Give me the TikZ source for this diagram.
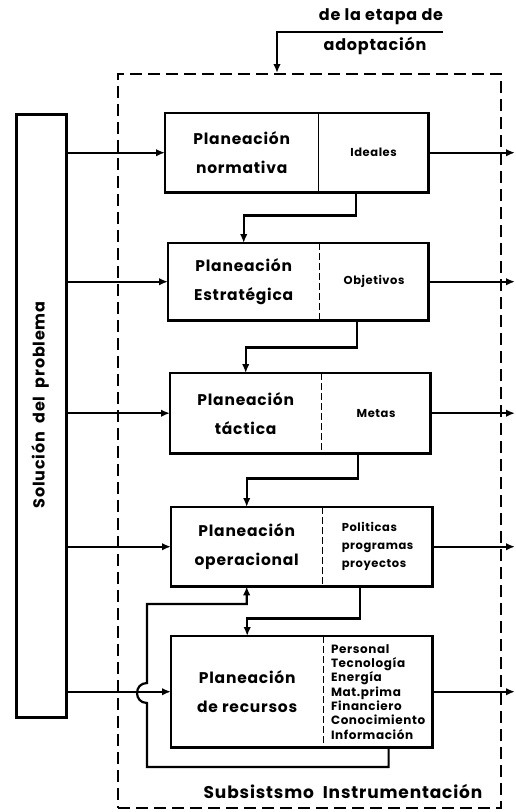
\documentclass[tikz,border=0pt]{standalone}
\usepackage{fontspec}
\setmainfont{Poppins}[LetterSpace=5]
\usetikzlibrary{arrows.meta}

\begin{document}
\begin{tikzpicture}[x=1pt,y=-1pt,
  wire/.style={line width=2.2pt},
  arr/.style={line width=2.2pt, -{Latex[length=9pt,width=7.5pt]}},
  part/.style={inner sep=0pt, anchor=north west, align=center},
  frame/.style={line width=2.8pt},
  divide/.style={line width=1pt, dash pattern=on 7pt off 3pt},
  big/.style={font=\fontsize{15.5}{29}\selectfont\bfseries},
  small/.style={font=\fontsize{11.5}{18}\selectfont\bfseries},
  list/.style={font=\fontsize{12}{14.3}\selectfont\bfseries, align=left},
]
\useasboundingbox (0,0) rectangle (516,812);

% instrumentation subsystem boundary
\node[draw, dash pattern=on 12pt off 6pt, line width=2.3pt, minimum width=383,
      minimum height=734, anchor=north west, inner sep=0pt] (sub) at (117,73) {};
\node[font=\fontsize{17}{19}\selectfont\bfseries] (subl) at (343,791) {Subsistsmo\ \ Instrumentación};

% incoming signal from the adaptation stage
\node[font=\fontsize{16}{18}\selectfont\bfseries] (etapa) at (381,17) {de la etapa de};
\node[font=\fontsize{16}{18}\selectfont\bfseries] (adapt) at (375,46) {adoptación};
\coordinate (ul) at (443,32);
\coordinate (drop) at (277,32);
\draw[arr] (ul) -- (drop) -- (drop |- sub.north);

% problem solution column
\node[draw, frame, minimum width=50, minimum height=603, anchor=north west, inner sep=0pt] (sol) at (15,113) {};
\node[rotate=90, font=\fontsize{16}{18}\selectfont\bfseries] (soltext) at (40,405) {Solución\ \ del\ \ problema};

% planning levels
\node[part, big, minimum width=153, minimum height=79] (n1) at (165,113) {Planeación\\normativa};
\node[part, small, minimum width=110, minimum height=79] (r1) at (n1.north east) {Ideales};
\draw[frame] (n1.north west) rectangle (r1.south east);
\draw[line width=1pt] (n1.north east) -- (n1.south east);

\node[part, big, minimum width=151, minimum height=77] (n2) at (168,243) {Planeación\\Estratégica};
\node[part, small, minimum width=109, minimum height=77] (r2) at (n2.north east) {Objetivos};
\draw[frame] (n2.north west) rectangle (r2.south east);
\draw[divide] (n2.north east) -- (n2.south east);

\node[part, big, minimum width=151, minimum height=80] (n3) at (170,373) {Planeación\\táctica};
\node[part, small, minimum width=109, minimum height=80] (r3) at (n3.north east) {Metas};
\draw[frame] (n3.north west) rectangle (r3.south east);
\draw[divide] (n3.north east) -- (n3.south east);

\node[part, big, minimum width=151, minimum height=79] (n4) at (171,507) {Planeación\\operacional};
\node[part, small, minimum width=110, minimum height=79, align=left] (r4) at (n4.north east) {Politicas\\programas\\proyectos};
\draw[frame] (n4.north west) rectangle (r4.south east);
\draw[divide] (n4.north east) -- (n4.south east);

\node[part, big, minimum width=152, minimum height=111] (n5) at (171,636) {Planeación\\de recursos};
\node[part, list, minimum width=109, minimum height=111] (r5) at (n5.north east)
  {Personal\\Tecnología\\Energía\\Mat.prima\\Financiero\\Conocimiento\\Información};
\draw[frame] (n5.north west) rectangle (r5.south east);
\draw[divide] (n5.north east) -- (n5.south east);

% inputs from the solution column
\foreach \n in {n1,n2,n3,n4,n5}
  \draw[arr] (sol.east |- \n.west) -- (\n.west);

% outputs leaving the subsystem
\coordinate (rim) at (515,0);
\foreach \r in {r1,r2,r3,r4,r5}
  \draw[arr] (\r.east) -- (\r.east -| rim);

% cascade between levels
\draw[arr] ([xshift=-18pt]r1.south) -- ++(0,23) -| (n2.north);
\draw[arr] ([xshift=-17.5pt]r2.south) -- ++(0,27) -| (n3.north);
\draw[arr] ([xshift=-18.5pt]r3.south) -- ++(0,25) -| (n4.north);
\draw[arr] ([xshift=-18pt]r4.south) -- ++(0,32) -| (n5.north);

% feedback from resources to operational planning, hopping over the input line
\coordinate (fb) at (147,767);
\draw[arr] ([xshift=10.5pt]r5.south) |- (fb) -- (147,703)
  .. controls (133.7,703) and (133.7,683) .. (147,683) -- (147,604) -| (n4.south);
\end{tikzpicture}
\end{document}
